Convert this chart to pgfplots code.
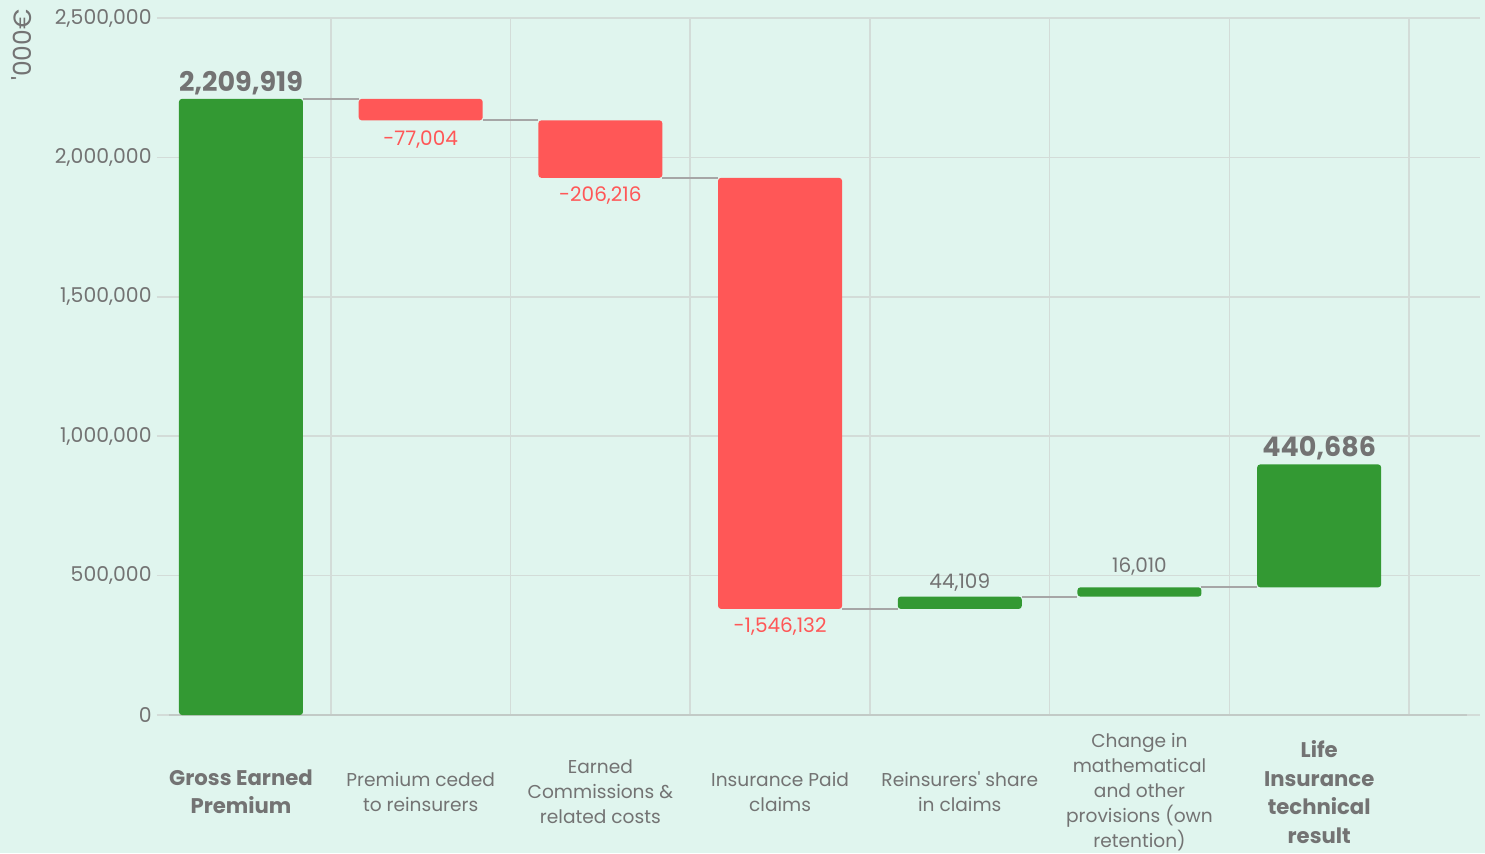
\documentclass[border=0pt]{standalone}
\usepackage{pgfplots}
\pgfplotsset{compat=1.18}
\usepackage{fontspec}
\setmainfont{Poppins}
\definecolor{bgmint}{HTML}{E0F5EE}
\definecolor{posgreen}{HTML}{339933}
\definecolor{negred}{HTML}{FF5757}
\definecolor{txtgray}{HTML}{737373}
\definecolor{gridc}{HTML}{D3DCD8}
\definecolor{linkgray}{HTML}{A6A6A6}
\definecolor{basegray}{HTML}{C2CAC6}
\newcommand\bl{\fontsize{10.6}{14.2}\selectfont\bfseries}

\begin{document}
\begin{tikzpicture}
\fill[bgmint] (0,0) rectangle (742.5pt,426.5pt);
\begin{axis}[
    at={(78.5pt,69pt)}, anchor=south west,
    scale only axis, width=661.5pt, height=348.5pt,
    xmin=-0.4674, xmax=6.895, ymin=0, ymax=2500000,
    clip=false,
    axis line style={draw=none},
    major tick length=0, tick style={draw=none},
    ytick={0,500000,1000000,1500000,2000000,2500000},
    scaled y ticks=false,
    /pgf/number format/.cd, fixed, 1000 sep={,}, assume math mode=true, /pgfplots/.cd,
    yticklabel style={anchor=east, inner sep=0pt, xshift=-2.5pt, font=\fontsize{10.2}{12}\selectfont, text=txtgray},
    ymajorgrids, major grid style={color=gridc, line width=0.75pt},
    xtick={0,1,2,3,4,5,6},
    xticklabels={
      {\bl Gross Earned\\[1.7pt]\bl Premium},
      {Premium ceded\\to reinsurers},
      {Earned\\Commissions \&\\related costs},
      {Insurance Paid\\claims},
      {Reinsurers\textquotesingle\ share\\in claims},
      {Change in\\mathematical\\and other\\provisions (own\\retention)},
      {\bl Life\\[1.8pt]\bl Insurance\\[1.8pt]\bl technical\\[1.8pt]\bl result}},
    xticklabel style={anchor=center, align=center, inner sep=0pt, yshift=-38.5pt,
      font=\fontsize{9.3}{12.5}\selectfont, text=txtgray},
    extra x ticks={0.5,1.5,2.5,3.5,4.5,5.5,6.5},
    extra x tick labels={},
    extra x tick style={grid=major},
    ylabel={\textquotesingle 000€},
    ylabel style={at={(rel axis cs:-0.1021,0.961)}, anchor=center, text=txtgray, font=\fontsize{12.5}{15}\selectfont},
    ybar stacked, bar width=62pt,
]
% invisible base of each floating bar
\addplot[draw=none, fill=none] coordinates {
    (0,0) (1,2132915) (2,1926699) (3,380567) (4,380567) (5,424676) (6,458000)};
% increases and totals
\addplot[draw=none, fill=posgreen, rounded corners=1.5pt] coordinates {
    (0,2209919) (1,0) (2,0) (3,0) (4,44109) (5,33324) (6,440686)};
% decreases
\addplot[draw=none, fill=negred, rounded corners=1.5pt] coordinates {
    (0,0) (1,77004) (2,206216) (3,1546132) (4,0) (5,0) (6,0)};

% connectors between bars
\addplot[stack plots=false, sharp plot, linkgray, line width=1pt, unbounded coords=jump] coordinates {
    (0.345,2209919) (0.655,2209919) (nan,nan)
    (1.345,2132915) (1.655,2132915) (nan,nan)
    (2.345,1926699) (2.655,1926699) (nan,nan)
    (3.345,380567) (3.655,380567) (nan,nan)
    (4.345,424676) (4.655,424676) (nan,nan)
    (5.345,458000) (5.655,458000)};
% base line
\addplot[stack plots=false, sharp plot, basegray, line width=1pt] coordinates {(-0.4007,0) (6.822,0)};

% value labels
\node[anchor=base, yshift=3.5pt, text=txtgray, font=\fontsize{13.5}{16}\selectfont\bfseries] at (axis cs:0,2209919) {2,209,919};
\node[anchor=base, yshift=-12.5pt, text=negred, font=\fontsize{10}{12}\selectfont] at (axis cs:1,2132915) {-77,004};
\node[anchor=base, yshift=-12pt, text=negred, font=\fontsize{10}{12}\selectfont] at (axis cs:2,1926699) {-206,216};
\node[anchor=base, yshift=-11.7pt, text=negred, font=\fontsize{10}{12}\selectfont] at (axis cs:3,380567) {-1,546,132};
\node[anchor=base, yshift=4pt, text=txtgray, font=\fontsize{10}{12}\selectfont] at (axis cs:4,424676) {44,109};
\node[anchor=base, yshift=7.5pt, text=txtgray, font=\fontsize{10}{12}\selectfont] at (axis cs:5,458000) {16,010};
\node[anchor=base, yshift=4pt, text=txtgray, font=\fontsize{13.5}{16}\selectfont\bfseries] at (axis cs:6,898686) {440,686};
\end{axis}
\pgfresetboundingbox
\useasboundingbox (0,0) rectangle (742.5pt,426.5pt);
\end{tikzpicture}
\end{document}
